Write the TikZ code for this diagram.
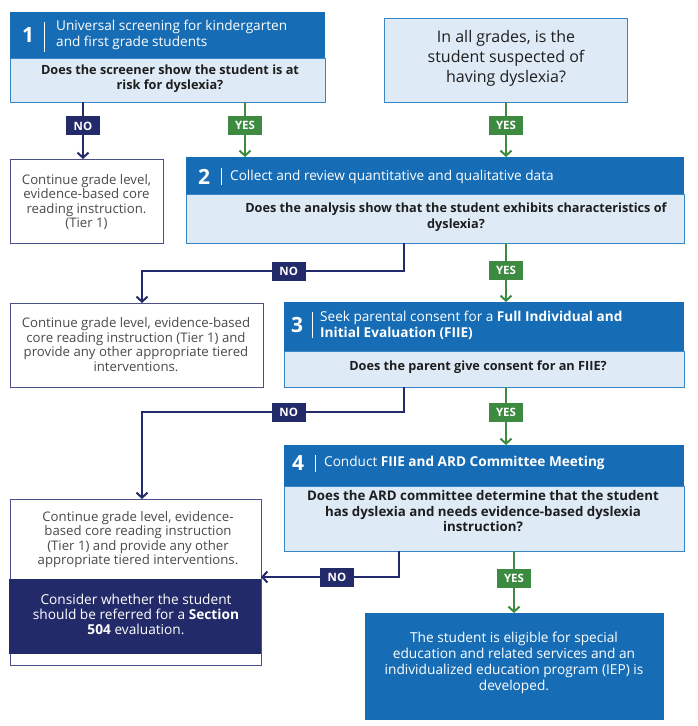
\documentclass[tikz,border=0pt]{standalone}
\usepackage{fontspec}
\setmainfont{Open Sans}
\usetikzlibrary{arrows.meta}
\definecolor{hblue}{HTML}{176DB5}
\definecolor{lblue}{HTML}{DEEBF7}
\definecolor{bblue}{HTML}{3A85C6}
\definecolor{navy}{HTML}{232A69}
\definecolor{grn}{HTML}{3D8B40}
\definecolor{txt}{HTML}{1E1E1E}
\definecolor{gtxt}{HTML}{4A4A4A}
\definecolor{wborder}{HTML}{4A4F86}
\begin{document}
\begin{tikzpicture}[x=1pt,y=-1pt,
  hdrbox/.style={fill=hblue, draw=none, inner sep=0pt, outer sep=0pt, anchor=north west},
  qbox/.style={fill=lblue, draw=bblue, line width=1pt, inner sep=0pt, outer sep=0pt, anchor=north west},
  wbox/.style={fill=white, draw=wborder, line width=1pt, inner sep=0pt, outer sep=0pt, anchor=north west},
  nbox/.style={fill=navy, draw=none, inner sep=0pt, outer sep=0pt, anchor=north west},
  fbox/.style={fill=hblue, draw=none, inner sep=0pt, outer sep=0pt, anchor=north west},
  num/.style={font=\bfseries\fontsize{21}{21}\selectfont, text=white, inner sep=0pt},
  htxt/.style={font=\fontsize{13.6}{16}\selectfont, text=white, align=left, anchor=west, inner sep=0pt},
  qtxt/.style={font=\bfseries\fontsize{12.7}{15.5}\selectfont, text=txt, align=center, inner sep=0pt},
  wtxt/.style={font=\fontsize{13.2}{14.4}\selectfont, text=gtxt, align=center, inner sep=0pt},
  divline/.style={draw=white, line width=1pt},
  lab/.style={font=\bfseries\fontsize{11.5}{11.5}\selectfont, text=white, inner sep=0pt, minimum width=34pt, minimum height=19pt},
  nolab/.style={lab, fill=navy},
  yeslab/.style={lab, fill=grn},
  noline/.style={draw=navy, line width=2pt, -{Straight Barb[length=5pt,width=11pt]}},
  yesline/.style={draw=grn, line width=2pt, -{Straight Barb[length=5pt,width=11pt]}}
]
\useasboundingbox[fill=white] (0,0) rectangle (697,726);

% ---- Box 1
\node[qbox, minimum width=315pt, minimum height=44pt] (q1) at (10,58) {};
\node[hdrbox, minimum width=315pt, minimum height=46pt] (h1) at (10,12) {};
\node[num] (n1) at (28,35) {1};
\draw[divline] (44,22) -- (44,52);
\node[htxt] (t1) at (56,35) {Universal screening for kindergarten\\and first grade students};
\node[qtxt] (qt1) at (170,78.5) {Does the screener show the student is at\\risk for dyslexia?};

% ---- Top right
\node[qbox, minimum width=243pt, minimum height=84pt] (tr) at (384,18) {};
\node[font=\fontsize{16}{20}\selectfont, text=txt, align=center, inner sep=0pt] (trt) at (506,58) {In all grades, is the\\student suspected of\\having dyslexia?};

% ---- Tier 1 box
\node[wbox, minimum width=153pt, minimum height=84pt] (w1) at (10,159) {};
\node[wtxt] (w1t) at (86.5,202) {Continue grade level,\\evidence-based core\\reading instruction.\\(Tier 1)};

% ---- Box 2
\node[qbox, minimum width=498pt, minimum height=49pt] (q2) at (186,194) {};
\node[hdrbox, minimum width=498pt, minimum height=37pt] (h2) at (186,157) {};
\node[num] (n2) at (204,176.5) {2};
\draw[divline] (221,168) -- (221,185);
\node[htxt] (t2) at (230,176.5) {Collect and review quantitative and qualitative data};
\node[qtxt] (qt2) at (456,217) {Does the analysis show that the student exhibits characteristics of\\dyslexia?};

% ---- Continue box 2
\node[wbox, minimum width=253pt, minimum height=84pt] (w2) at (10,303) {};
\node[wtxt] (w2t) at (136,344.5) {Continue grade level, evidence-based\\core reading instruction (Tier 1) and\\provide any other appropriate tiered\\interventions.};

% ---- Box 3
\node[qbox, minimum width=400pt, minimum height=36pt] (q3) at (284,351) {};
\node[hdrbox, minimum width=400pt, minimum height=49pt] (h3) at (284,302) {};
\node[num] (n3) at (297,325) {3};
\draw[divline] (312,312) -- (312,338);
\node[htxt] (t3) at (320,325) {Seek parental consent for a \textbf{Full Individual and}\\\textbf{Initial Evaluation (FIIE)}};
\node[qtxt] (qt3) at (478,367) {Does the parent give consent for an FIIE?};

% ---- Box 4
\node[qbox, minimum width=400pt, minimum height=65pt] (q4) at (284,486) {};
\node[hdrbox, minimum width=400pt, minimum height=41pt] (h4) at (284,445) {};
\node[num] (n4) at (298,463) {4};
\draw[divline] (315,455) -- (315,472);
\node[htxt] (t4) at (324,463) {Conduct \textbf{FIIE and ARD Committee Meeting}};
\node[qtxt, font=\bfseries\fontsize{13.3}{15.5}\selectfont] (qt4) at (483,511.5) {Does the ARD committee determine that the student\\has dyslexia and needs evidence-based dyslexia\\instruction?};

% ---- Bottom left compound
\node[wbox, minimum width=251pt, minimum height=166pt] (w3) at (10,499) {};
\node[wtxt] (w3t) at (138,539.5) {Continue grade level, evidence-\\based core reading instruction\\(Tier 1) and provide any other\\appropriate tiered interventions.};
\node[nbox, minimum width=252pt, minimum height=75pt] (nb) at (9,579) {};
\node[font=\fontsize{13.7}{15}\selectfont, text=white, align=center, inner sep=0pt] (nbt) at (136,614) {Consider whether the student\\should be referred for a \textbf{Section}\\\textbf{504} evaluation.};

% ---- Final box
\node[fbox, minimum width=299pt, minimum height=107pt] (fb) at (365,613) {};
\node[font=\fontsize{13.7}{16}\selectfont, text=white, align=center, inner sep=0pt] (fbt) at (514,663) {The student is eligible for special\\education and related services and an\\individualized education program (IEP) is\\developed.};

% ---- coordinates for connector columns
\coordinate (c83) at (83,0);
\coordinate (c245) at (245,0);
\coordinate (c506) at (506,0);
\coordinate (c404) at (404,0);
\coordinate (c142) at (142,0);
\coordinate (c399) at (399,0);
\coordinate (c514) at (514,0);
\coordinate (r271) at (0,271);
\coordinate (r412) at (0,412);
\coordinate (r577) at (0,577);

% ---- connectors
\draw[noline] (q1.south -| c83) -- node[nolab, pos=0.42] (no1) {NO} (w1.north -| c83);
\draw[yesline] (q1.south -| c245) -- node[yeslab, pos=0.42] (yes1) {YES} (h2.north -| c245);
\draw[yesline] (tr.south -| c506) -- node[yeslab, pos=0.42] (yes0) {YES} (h2.north -| c506);

\draw[noline] (q2.south -| c404) -- (c404 |- r271) -- node[nolab, pos=0.44] (no2) {NO} (c142 |- r271) -- (w2.north -| c142);
\draw[yesline] (q2.south -| c506) -- node[yeslab, pos=0.47] (yes2) {YES} (h3.north -| c506);

\draw[noline] (q3.south -| c404) -- (c404 |- r412) -- node[nolab, pos=0.44] (no3) {NO} (c142 |- r412) -- (w3.north -| c142);
\draw[yesline] (q3.south -| c506) -- node[yeslab, pos=0.44] (yes3) {YES} (h4.north -| c506);

\draw[noline] (q4.south -| c399) -- (c399 |- r577) -- node[nolab, pos=0.45] (no4) {NO} (w3.east |- r577);
\draw[yesline] (q4.south -| c514) -- node[yeslab, pos=0.44] (yes4) {YES} (fb.north -| c514);
\end{tikzpicture}
\end{document}
